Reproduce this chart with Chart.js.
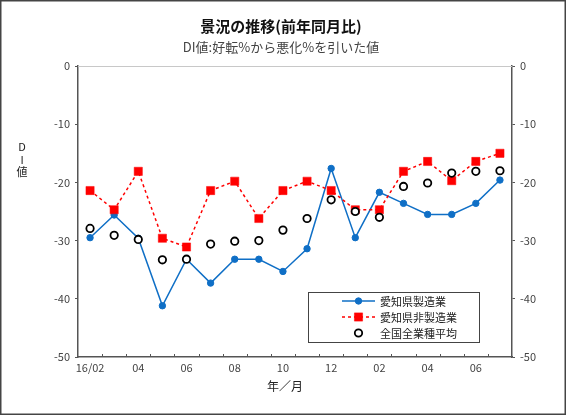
<!DOCTYPE html>
<html>
<head>
<meta charset="utf-8">
<script src="https://cdn.jsdelivr.net/npm/chart.js@4"></script>
<style>
  html, body { margin: 0; padding: 0; background: #fff; }
  #wrap { width: 566px; height: 416px; }
</style>
</head>
<body>
<div id="wrap"><canvas id="chartKeikyo" width="566" height="416"></canvas></div>
<script>
// 月ラベル (16/02 〜 17/07)
const meses = ['16/02', '03', '04', '05', '06', '07', '08', '09', '10', '11', '12',
               '01', '02', '03', '04', '05', '06', '07'];

// 愛知県製造業
const seiZou = [-29.5, -25.6, -29.6, -41.2, -33.2, -37.3, -33.2, -33.2, -35.3, -31.4,
                -17.6, -29.5, -21.7, -23.6, -25.5, -25.5, -23.6, -19.6];
// 愛知県非製造業
const hiSeiZou = [-21.4, -24.7, -18.1, -29.6, -31.1, -21.4, -19.8, -26.2, -21.4, -19.8,
                  -21.4, -24.7, -24.7, -18.1, -16.4, -19.7, -16.4, -15.0];
// 全国全業種平均
const zenkoku = [-27.9, -29.1, -29.8, -33.3, -33.2, -30.6, -30.1, -30.0, -28.2, -26.2,
                 -23.0, -25.0, -26.0, -20.7, -20.1, -18.4, -18.1, -18.0];

const yMin = -50;
const yMax = 0;
const yPaso = 10;

const nombres = ['愛知県製造業', '愛知県非製造業', '全国全業種平均'];

const FUENTE = '"Noto Sans CJK JP", "Noto Sans", sans-serif';
const AZUL = '#0f6fc6';
const ROJO = '#ff0000';
const EJE = '#555555';

// Textos, leyenda y marco
const pluginDecoracion = {
    id: 'decoracion',
    afterDraw(chart) {
        const ctx = chart.ctx;
        const area = chart.chartArea;
        const xs = chart.scales.x;
        ctx.save();

        // Borde superior del área
        ctx.strokeStyle = '#c8c8c8';
        ctx.lineWidth = 1;
        ctx.beginPath();
        ctx.moveTo(area.left, area.top + 0.5);
        ctx.lineTo(area.right, area.top + 0.5);
        ctx.stroke();

        // Marcas del eje X (entre categorías, hacia dentro)
        ctx.strokeStyle = EJE;
        ctx.beginPath();
        for (let i = 1; i < meses.length; i++) {
            const px = Math.round(xs.getPixelForValue(i - 0.5)) + 0.5;
            ctx.moveTo(px, area.bottom);
            ctx.lineTo(px, area.bottom - 3);
        }
        ctx.stroke();

        // Título
        ctx.fillStyle = '#111';
        ctx.textAlign = 'center';
        ctx.textBaseline = 'middle';
        ctx.font = 'bold 15px ' + FUENTE;
        ctx.fillText('景況の推移(前年同月比)', 281, 26);
        ctx.fillStyle = '#444';
        ctx.font = '13px ' + FUENTE;
        ctx.fillText('DI値:好転%から悪化%を引いた値', 281, 47);

        // Rótulos de ejes
        ctx.fillStyle = '#222';
        ctx.font = '11px ' + FUENTE;
        ['D', 'I', '値'].forEach((c, i) => ctx.fillText(c, 22, 147 + i * 12.5));
        ctx.font = '12px ' + FUENTE;
        ctx.fillText('年／月', 285, 386);

        // Leyenda
        const lx = 308.5, ly = 292.5, lw = 171, lh = 50;
        ctx.fillStyle = '#fff';
        ctx.fillRect(lx, ly, lw, lh);
        ctx.strokeStyle = '#444';
        ctx.lineWidth = 1;
        ctx.strokeRect(lx, ly, lw, lh);

        const filas = [301, 317, 333];
        chart.data.datasets.forEach((ds, i) => {
            const y = filas[i];
            const cx = 358.5;
            if (ds.showLine !== false) {
                ctx.strokeStyle = ds.borderColor;
                ctx.lineWidth = ds.borderWidth;
                ctx.setLineDash(ds.borderDash || []);
                ctx.beginPath();
                ctx.moveTo(342, y);
                ctx.lineTo(375, y);
                ctx.stroke();
                ctx.setLineDash([]);
            }
            ctx.fillStyle = ds.pointBackgroundColor;
            ctx.strokeStyle = ds.pointBorderColor;
            ctx.lineWidth = ds.pointBorderWidth;
            ctx.beginPath();
            if (ds.pointStyle === 'rect') {
                const s = ds.pointRadius * Math.SQRT1_2;
                ctx.rect(cx - s, y - s, 2 * s, 2 * s);
            } else {
                ctx.arc(cx, y, ds.pointRadius, 0, Math.PI * 2);
            }
            ctx.fill();
            ctx.stroke();

            ctx.fillStyle = '#222';
            ctx.textAlign = 'left';
            ctx.font = '11px ' + FUENTE;
            ctx.fillText(ds.label, 380, y + 0.5);
        });

        // Marco exterior
        ctx.strokeStyle = '#444';
        ctx.lineWidth = 1.5;
        ctx.strokeRect(0.75, 0.75, 564.5, 413.5);
        ctx.restore();
    }
};

const ejeY = (posicion, ancho) => ({
    type: 'linear',
    position: posicion,
    min: yMin,
    max: yMax,
    afterFit: (s) => { s.width = ancho; },
    ticks: {
        stepSize: yPaso,
        padding: 5,
        color: '#444',
        font: { size: 11, family: FUENTE }
    },
    grid: {
        drawOnChartArea: false,
        drawTicks: true,
        tickLength: 3,
        color: EJE
    },
    border: { display: true, color: EJE, width: 1.5 }
});

new Chart(document.getElementById('chartKeikyo').getContext('2d'), {
    type: 'line',
    data: {
        labels: meses,
        datasets: [
            {
                label: nombres[0],
                data: seiZou,
                borderColor: AZUL,
                backgroundColor: AZUL,
                borderWidth: 1.5,
                pointStyle: 'circle',
                pointRadius: 3.2,
                pointBorderWidth: 1,
                pointBackgroundColor: AZUL,
                pointBorderColor: AZUL,
                tension: 0,
                order: 3,
                yAxisID: 'y'
            },
            {
                label: nombres[1],
                data: hiSeiZou,
                borderColor: ROJO,
                backgroundColor: ROJO,
                borderWidth: 1.5,
                borderDash: [3, 3],
                pointStyle: 'rect',
                pointRadius: 5.8,
                pointBorderWidth: 0.5,
                pointBackgroundColor: ROJO,
                pointBorderColor: ROJO,
                tension: 0,
                order: 2,
                yAxisID: 'y'
            },
            {
                label: nombres[2],
                data: zenkoku,
                showLine: false,
                borderColor: '#000',
                backgroundColor: '#fff',
                pointStyle: 'circle',
                pointRadius: 3.7,
                pointBorderWidth: 1.8,
                pointBackgroundColor: '#fff',
                pointBorderColor: '#000',
                order: 1,
                yAxisID: 'y'
            }
        ]
    },
    options: {
        responsive: false,
        animation: false,
        devicePixelRatio: 1,
        layout: { padding: { top: 66, left: 0, right: 0, bottom: 0 } },
        plugins: {
            legend: { display: false },
            title: { display: false },
            tooltip: { enabled: false }
        },
        scales: {
            x: {
                type: 'category',
                offset: true,
                afterFit: (s) => { s.height = 59; },
                ticks: {
                    autoSkip: false,
                    maxRotation: 0,
                    padding: 4,
                    color: '#444',
                    font: { size: 11, family: FUENTE },
                    callback: function (v, i) {
                        return i % 2 === 0 ? meses[i] : '';
                    }
                },
                grid: { display: false, drawTicks: false },
                border: { display: true, color: EJE, width: 1.5 }
            },
            y: ejeY('left', 78),
            y2: ejeY('right', 54)
        }
    },
    plugins: [pluginDecoracion]
});
</script>
</body>
</html>
